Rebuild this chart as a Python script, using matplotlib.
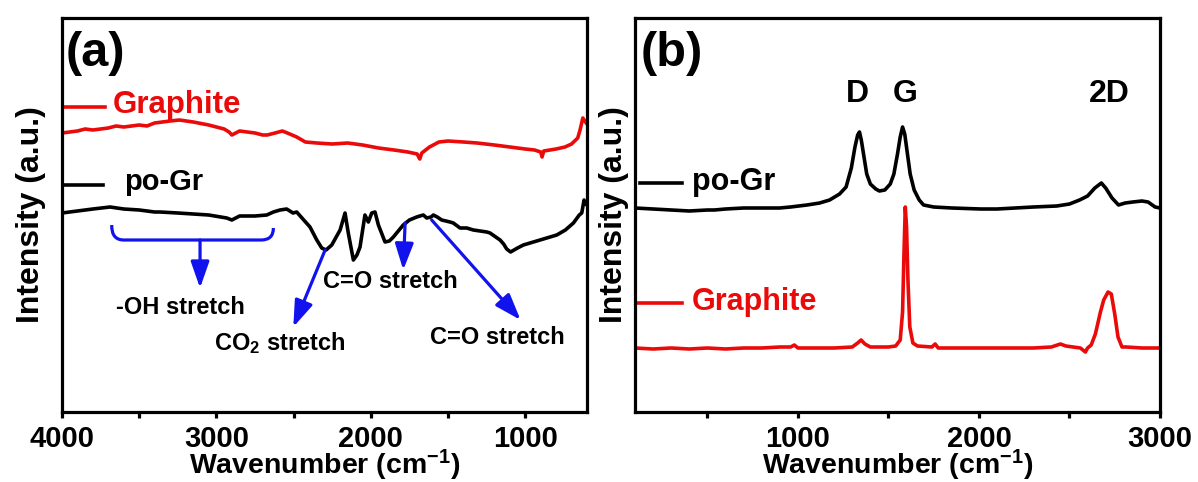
import numpy as np
import matplotlib
matplotlib.use("Agg")
import matplotlib.pyplot as plt
from matplotlib.path import Path
from matplotlib.patches import PathPatch

plt.rcParams['font.family'] = ['Liberation Sans', 'DejaVu Sans']
plt.rcParams['font.weight'] = 'bold'
plt.rcParams['mathtext.fontset'] = 'custom'
plt.rcParams['mathtext.rm'] = 'Liberation Sans:bold'
plt.rcParams['mathtext.it'] = 'Liberation Sans:bold'
plt.rcParams['mathtext.bf'] = 'Liberation Sans:bold'

RED = '#ea0a0a'
BLUE = '#1212ee'

# (a) FTIR, graphite (red) and po-Gr (black), intensity in arbitrary units
ftir_gr_wn = [4000, 3950, 3900, 3850, 3800, 3700, 3650, 3600, 3500, 3450, 3400, 3300,
              3240, 3150, 3050, 2950, 2918, 2900, 2850, 2800, 2750, 2700, 2671, 2620,
              2573, 2540, 2480, 2424, 2350, 2250, 2150, 2053, 1950, 1850, 1760, 1700,
              1683, 1670, 1620, 1559, 1500, 1400, 1312, 1200, 1100, 1000, 940, 900,
              891, 880, 800, 743, 700, 660, 645, 627, 610, 600]
ftir_gr_int = [279, 280, 281, 283, 282, 284, 286, 285, 287, 286, 289, 291,
               292, 290, 287, 283, 280, 277, 281, 280, 279, 277, 277, 279,
               281, 279, 275, 270, 269, 268, 269, 267, 264, 262, 260, 258,
               253, 259, 265, 270, 271, 270, 269, 267, 265, 263, 262, 260,
               255, 261, 263, 265, 268, 274, 282, 294, 290, 288]

ftir_po_wn = [4000, 3900, 3800, 3689, 3600, 3500, 3400, 3365, 3250, 3150, 3050, 2933,
              2900, 2850, 2750, 2674, 2631, 2588, 2545, 2504, 2480, 2440, 2394, 2350,
              2318, 2290, 2253, 2199, 2180, 2167, 2146, 2113, 2090, 2070, 2038, 2016,
              1994, 1973, 1951, 1908, 1880, 1854, 1790, 1750, 1703, 1660, 1638, 1610,
              1595, 1570, 1541, 1487, 1466, 1422, 1379, 1336, 1249, 1228, 1163, 1140,
              1120, 1095, 1050, 1012, 904, 796, 740, 688, 650, 634, 619, 610, 600]
ftir_po_int = [199, 201, 203, 205, 203, 202, 200, 200, 199, 198, 197, 194,
               192, 196, 196, 197, 200, 202, 203, 199, 200, 193, 185, 172,
               164, 162, 167, 182, 192, 199, 179, 152, 157, 165, 197, 190,
               199, 200, 187, 170, 171, 175, 187, 192, 195, 197, 194, 195,
               197, 195, 192, 190, 189, 184, 184, 182, 180, 179, 172, 168,
               163, 160, 164, 167, 172, 177, 182, 189, 197, 199, 212, 208, 207]

# (b) Raman, po-Gr (black) and graphite (red)
raman_po_wn = [100, 200, 300, 400, 500, 539, 600, 700, 800, 899, 959, 1050, 1120,
               1175, 1230, 1266, 1295, 1315, 1330, 1340, 1350, 1365, 1380, 1400,
               1430, 1450, 1480, 1510, 1530, 1550, 1565, 1578, 1590, 1605, 1620,
               1642, 1670, 1694, 1750, 1850, 2010, 2100, 2200, 2300, 2430, 2500,
               2556, 2600, 2640, 2676, 2700, 2735, 2771, 2808, 2850, 2900, 2934,
               2973, 3000]
raman_po_int = [204, 203, 202, 201, 202, 202, 203, 204, 204, 204, 205, 207, 209,
                212, 218, 225, 244, 265, 277, 280, 272, 255, 238, 228,
                223, 221, 222, 228, 238, 258, 275, 285, 278, 258, 238,
                222, 212, 207, 205, 204, 203, 203, 204, 205, 206, 208,
                212, 216, 224, 229, 224, 214, 207, 209, 210, 211, 210,
                205, 204]

raman_gr_wn = [100, 200, 300, 400, 500, 600, 700, 800, 900, 960, 980, 1000, 1100,
               1200, 1300, 1330, 1349, 1370, 1400, 1500, 1540, 1565, 1578, 1586,
               1593, 1600, 1608, 1618, 1635, 1660, 1740, 1758, 1775, 1900, 2100,
               2300, 2400, 2450, 2480, 2560, 2588, 2600, 2620, 2643, 2671, 2689,
               2713, 2731, 2750, 2768, 2790, 2815, 2900, 3000]
raman_gr_int = [64, 63, 64, 63, 64, 63, 64, 64, 65, 65, 67, 64, 64,
                64, 65, 69, 72, 68, 65, 65, 66, 72, 100, 160,
                205, 185, 130, 85, 69, 66, 65, 68, 64, 64, 64,
                64, 65, 68, 66, 64, 60, 64, 67, 78, 100, 112,
                120, 118, 98, 75, 65, 65, 64, 64]

fig = plt.figure(figsize=(11.98, 4.82), dpi=100)
ax1 = fig.add_axes([62 / 1198, 70 / 482, 525 / 1198, 394 / 482])
ax2 = fig.add_axes([635 / 1198, 70 / 482, 525 / 1198, 394 / 482])

for ax in (ax1, ax2):
    for s in ax.spines.values():
        s.set_linewidth(2.3)
    ax.set_ylim(0, 394)
    ax.set_yticks([])
    ax.tick_params(axis='x', which='both', direction='out', width=2.3, labelsize=21, pad=5)
    ax.tick_params(axis='x', which='major', length=4.5)
    ax.tick_params(axis='x', which='minor', length=4.5)
    ax.set_xlabel('Wavenumber (cm$^{-1}$)', fontsize=20.5, fontweight='bold')
    ax.xaxis.set_label_coords(0.5, -0.09)
    ax.set_ylabel('Intensity (a.u.)', fontsize=23, fontweight='bold')

ax1.yaxis.set_label_coords(-0.03, 0.5)
ax2.yaxis.set_label_coords(-0.012, 0.5)

# panel (a)
ax1.plot(ftir_gr_wn, ftir_gr_int, color=RED, lw=2.6)
ax1.plot(ftir_po_wn, ftir_po_int, color='black', lw=2.6)
ax1.set_xlim(4000, 600)
ax1.set_xticks([4000, 3000, 2000, 1000])
ax1.set_xticks([3500, 2500, 1500], minor=True)
ax1.text(0.006, 0.91, '(a)', transform=ax1.transAxes, fontsize=35, va='center', ha='left')

ax1.plot([0.002, 0.082], [0.774, 0.774], transform=ax1.transAxes, color=RED, lw=2.6)
ax1.text(0.096, 0.779, 'Graphite', transform=ax1.transAxes, color=RED, fontsize=22.5,
         va='center', ha='left')
ax1.plot([0.002, 0.078], [0.576, 0.576], transform=ax1.transAxes, color='black', lw=2.6)
ax1.text(0.118, 0.585, 'po-Gr', transform=ax1.transAxes, color='black', fontsize=21,
         va='center', ha='left')

# bracket over the -OH region
verts = [(3678, 187), (3680, 172), (3600, 172), (2710, 172), (2631, 172), (2631, 184)]
codes = [Path.MOVETO, Path.CURVE3, Path.CURVE3, Path.LINETO, Path.CURVE3, Path.CURVE3]
ax1.add_patch(PathPatch(Path(verts, codes), fill=False, edgecolor=BLUE, lw=2.3))

arrow_kw = dict(arrowstyle='-|>,head_length=1.0,head_width=0.35', color=BLUE, lw=2.3,
                mutation_scale=16, shrinkA=0, shrinkB=0)
ax1.annotate('', xy=(3106, 124), xytext=(3106, 172), arrowprops=arrow_kw)
ax1.annotate('', xy=(2502, 85), xytext=(2296, 162), arrowprops=arrow_kw)
ax1.annotate('', xy=(1790, 142), xytext=(1778, 189), arrowprops=arrow_kw)
ax1.annotate('', xy=(1030, 92), xytext=(1606, 192), arrowprops=arrow_kw)

ax1.text(3236, 105, '-OH stretch', fontsize=17, ha='center', va='center')
ax1.text(2588, 69, 'CO$_2$ stretch', fontsize=17, ha='center', va='center')
ax1.text(1876, 130, 'C=O stretch', fontsize=17, ha='center', va='center')
ax1.text(1183, 75, 'C=O stretch', fontsize=17, ha='center', va='center')

# panel (b)
ax2.plot(raman_po_wn, raman_po_int, color='black', lw=2.6)
ax2.plot(raman_gr_wn, raman_gr_int, color=RED, lw=2.6)
ax2.set_xlim(100, 3000)
ax2.set_xticks([1000, 2000, 3000])
ax2.set_xticks([500, 1500, 2500], minor=True)
ax2.text(0.01, 0.91, '(b)', transform=ax2.transAxes, fontsize=35, va='center', ha='left')

ax2.text(1329, 318, 'D', fontsize=23, ha='center', va='center')
ax2.text(1590, 318, 'G', fontsize=23, ha='center', va='center')
ax2.text(2722, 318, '2D', fontsize=23, ha='center', va='center')

ax2.plot([0.0095, 0.0895], [0.581, 0.581], transform=ax2.transAxes, color='black', lw=2.6)
ax2.text(0.108, 0.585, 'po-Gr', transform=ax2.transAxes, color='black', fontsize=22,
         va='center', ha='left')
ax2.plot([0.002, 0.0895], [0.277, 0.277], transform=ax2.transAxes, color=RED, lw=2.6)
ax2.text(0.108, 0.28, 'Graphite', transform=ax2.transAxes, color=RED, fontsize=22,
         va='center', ha='left')

fig.savefig('out.png', dpi=100)
